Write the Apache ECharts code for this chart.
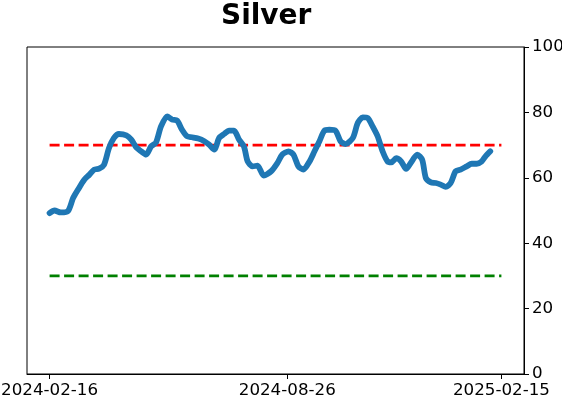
<!DOCTYPE html>
<html>
<head>
<meta charset="utf-8">
<script src="https://cdn.jsdelivr.net/npm/echarts@6/dist/echarts.min.js"></script>
<style>html,body{margin:0;padding:0;background:#fff;}#c{width:562px;height:402px;}</style>
</head>
<body>
<div id="c"></div>
<script>
const tickLabels = ['2024-02-16', '2024-08-26', '2025-02-15'];
const yTicks = [0, 20, 40, 60, 80, 100];
const dates = [
  '2024-02-16','2024-02-20','2024-02-25','2024-03-02','2024-03-06','2024-03-10','2024-03-15','2024-03-19',
  '2024-03-23','2024-03-27','2024-03-31','2024-04-04','2024-04-08','2024-04-12','2024-04-18','2024-04-22',
  '2024-04-26','2024-04-30','2024-05-04','2024-05-08','2024-05-12','2024-05-16','2024-05-21','2024-05-25',
  '2024-05-29','2024-06-02','2024-06-06','2024-06-10','2024-06-15','2024-06-20','2024-06-24','2024-06-28',
  '2024-07-02','2024-07-06','2024-07-10','2024-07-14','2024-07-18','2024-07-22','2024-07-25','2024-07-29',
  '2024-08-02','2024-08-07','2024-08-13','2024-08-18','2024-08-22','2024-08-27','2024-08-31','2024-09-04',
  '2024-09-08','2024-09-13','2024-09-17','2024-09-21','2024-09-25','2024-09-29','2024-10-04','2024-10-08',
  '2024-10-12','2024-10-18','2024-10-22','2024-10-26','2024-10-30','2024-11-03','2024-11-07','2024-11-11',
  '2024-11-15','2024-11-18','2024-11-22','2024-11-26','2024-11-30','2024-12-04','2024-12-09','2024-12-13',
  '2024-12-16','2024-12-20','2024-12-24','2024-12-28','2025-01-01','2025-01-05','2025-01-09','2025-01-13',
  '2025-01-18','2025-01-22','2025-01-26','2025-01-30','2025-02-02','2025-02-06'
];
const values = [
  49.2, 50.0, 49.4, 49.9, 53.8, 56.4, 59.4, 60.9,
  62.5, 62.8, 64.0, 69.1, 72.2, 73.4, 73.0, 71.7,
  69.3, 68.1, 67.1, 69.6, 70.8, 75.7, 78.8, 77.8,
  77.5, 74.7, 72.7, 72.4, 72.0, 71.2, 70.1, 68.6,
  72.2, 73.4, 74.4, 74.4, 71.7, 69.6, 65.0, 63.5,
  63.7, 60.7, 62.0, 64.5, 67.1, 68.1, 67.1, 63.5,
  62.5, 65.0, 68.1, 71.2, 74.4, 74.7, 74.4, 71.2,
  70.3, 72.2, 76.8, 78.5, 78.3, 75.7, 72.7, 68.1,
  65.0, 64.7, 66.0, 65.0, 62.7, 64.7, 67.1, 65.5,
  59.9, 58.6, 58.4, 57.9, 57.2, 58.4, 62.0, 62.5,
  63.5, 64.3, 64.3, 65.0, 66.5, 68.1
];
const upperLevel = [70];
const lowerLevel = [30];

function ts(s) { const p = s.split('-').map(Number); return new Date(p[0], p[1] - 1, p[2]).getTime(); }
function fmt(v) {
  const d = new Date(Math.round(v));
  const pad = n => (n < 10 ? '0' : '') + n;
  return d.getFullYear() + '-' + pad(d.getMonth() + 1) + '-' + pad(d.getDate());
}
const tickTs = tickLabels.map(ts);
const spanStart = tickTs[0], spanEnd = tickTs[tickTs.length - 1];
const margin = (spanEnd - spanStart) * 0.05;
const lineData = dates.map((d, i) => [ts(d), values[i]]);
const font = 'DejaVu Sans';

const chart = echarts.init(document.getElementById('c'), null, { renderer: 'canvas' });
chart.setOption({
  animation: false,
  backgroundColor: '#fff',
  title: {
    text: 'Silver', left: 216, top: -2,
    textStyle: { fontFamily: font, fontWeight: 'bold', fontSize: 28, color: '#000' }
  },
  grid: {
    left: 27, right: 38, top: 47, bottom: 28, containLabel: false, outerBoundsMode: 'none',
    show: true, borderColor: '#000', borderWidth: 1, backgroundColor: 'transparent'
  },
  xAxis: {
    type: 'value', min: spanStart - margin, max: spanEnd + margin, scale: true,
    axisLine: { show: true, lineStyle: { color: '#000', width: 1 } },
    axisTick: { show: true, length: 5, lineStyle: { color: '#000', width: 1 }, customValues: tickTs },
    axisLabel: { customValues: tickTs, formatter: v => fmt(v), fontFamily: font, fontSize: 16.7, color: '#000', margin: 8 },
    splitLine: { show: false }
  },
  yAxis: {
    type: 'value', position: 'right', min: yTicks[0], max: yTicks[yTicks.length - 1], interval: yTicks[1] - yTicks[0],
    axisLine: { show: true, lineStyle: { color: '#000', width: 1 } },
    axisTick: { show: true, length: 5, lineStyle: { color: '#000', width: 1 } },
    axisLabel: { fontFamily: font, fontSize: 16.7, color: '#000', margin: 8 },
    splitLine: { show: false }
  },
  series: [
    {
      type: 'line', data: [[spanStart, upperLevel[0]], [spanEnd, upperLevel[0]]], symbol: 'none',
      lineStyle: { color: '#ff0000', width: 2.6, type: [10, 4.5] }, z: 3
    },
    {
      type: 'line', data: [[spanStart, lowerLevel[0]], [spanEnd, lowerLevel[0]]], symbol: 'none',
      lineStyle: { color: '#008000', width: 2.6, type: [10, 4.5] }, z: 3
    },
    {
      type: 'line', data: lineData, symbol: 'none', smooth: 0.25,
      lineStyle: { color: '#1f77b4', width: 5.8, cap: 'round', join: 'round' }, z: 4
    }
  ]
});
</script>
</body>
</html>
